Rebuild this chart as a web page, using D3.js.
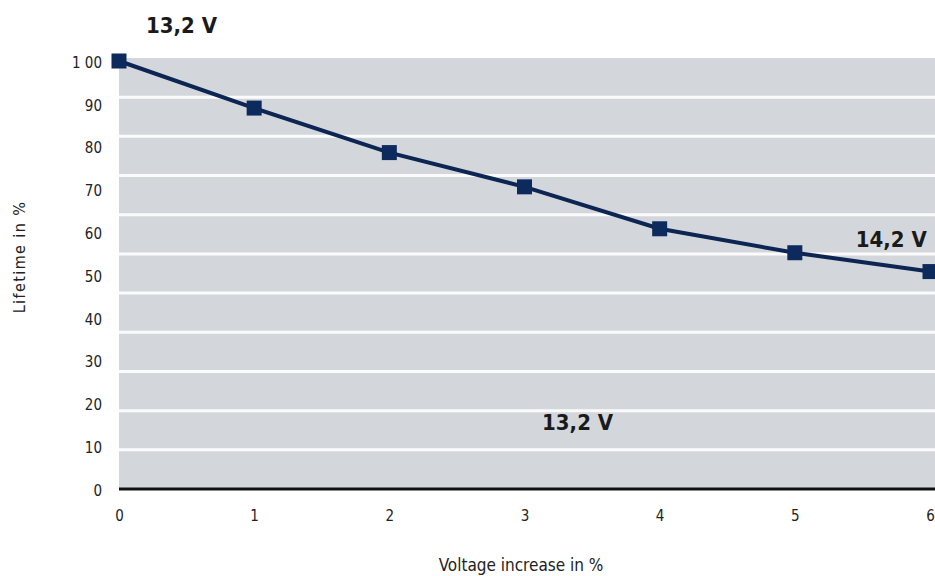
<!DOCTYPE html>
<html>
<head>
<meta charset="utf-8">
<script src="https://cdn.jsdelivr.net/npm/d3@7"></script>
<style>
  html, body { margin: 0; padding: 0; background: #ffffff; }
  svg { display: block; }
</style>
</head>
<body>
<svg id="chart" width="935" height="576"></svg>
<script>
// Lifetime of a lamp versus supply voltage increase
const voltageIncrease = [0, 1, 2, 3, 4, 5, 6];
const lifetime = [100, 89, 78.6, 70.6, 60.8, 55.2, 50.8];
const yTickValues = [0, 10, 20, 30, 40, 50, 60, 70, 80, 90, 100];
const yTickLabels = ["0", "10", "20", "30", "40", "50", "60", "70", "80", "90", "1 00"];
const xTickValues = [0, 1, 2, 3, 4, 5, 6];
const xTickLabels = ["0", "1", "2", "3", "4", "5", "6"];
const stripeCount = 11;
const annotations = [
  { text: "13,2 V", x: 0.2, y: 106.5 },
  { text: "14,2 V", x: 5.45, y: 56.5 },
  { text: "13,2 V", x: 3.13, y: 13.7 }
];

const svg = d3.select("#chart");
const W = 935, H = 576;

const x = d3.scaleLinear().domain([0, 6]).range([119, 930]);
const y = d3.scaleLinear().domain([0, 100]).range([489, 61]);
const stripe = d3.scaleLinear().domain([0, stripeCount]).range([489, 58]);

const plotLeft = x(0), plotTop = stripe(stripeCount), plotBottom = y(0);

// grey plot panel
svg.append("rect")
  .attr("x", plotLeft).attr("y", plotTop)
  .attr("width", W - plotLeft).attr("height", plotBottom - plotTop)
  .attr("fill", "#d3d7dc");

// white stripes across the panel
svg.append("g").selectAll("line")
  .data(d3.range(1, stripeCount))
  .join("line")
  .attr("x1", plotLeft).attr("x2", W)
  .attr("y1", d => stripe(d)).attr("y2", d => stripe(d))
  .attr("stroke", "#fbfbfc").attr("stroke-width", 3);

// baseline
svg.append("line")
  .attr("x1", plotLeft).attr("x2", W)
  .attr("y1", plotBottom).attr("y2", plotBottom)
  .attr("stroke", "#111111").attr("stroke-width", 3);

const tickFont = "'DejaVu Sans Condensed', 'DejaVu Sans', sans-serif";

// y axis labels
const yAxis = d3.axisLeft(y)
  .tickValues(yTickValues)
  .tickFormat((d, i) => yTickLabels[i])
  .tickSize(0).tickPadding(0);
const gy = svg.append("g").attr("transform", `translate(102,0)`).call(yAxis);
gy.select(".domain").remove();
gy.selectAll("text")
  .attr("font-family", tickFont).attr("font-size", 15)
  .attr("fill", "#222").attr("dy", "0.42em");

// x axis labels
const xAxis = d3.axisBottom(x)
  .tickValues(xTickValues)
  .tickFormat((d, i) => xTickLabels[i])
  .tickSize(0).tickPadding(0);
const gx = svg.append("g").attr("transform", `translate(0,516)`).call(xAxis);
gx.select(".domain").remove();
gx.selectAll("text")
  .attr("font-family", tickFont).attr("font-size", 15)
  .attr("fill", "#222").attr("dy", "0.35em");

// axis titles
svg.append("text")
  .attr("x", 521).attr("y", 571)
  .attr("text-anchor", "middle")
  .attr("font-family", tickFont).attr("font-size", 17)
  .attr("fill", "#222")
  .text("Voltage increase in %");

svg.append("text")
  .attr("transform", "translate(25,257) rotate(-90)")
  .attr("text-anchor", "middle")
  .attr("font-family", tickFont).attr("font-size", 16)
  .attr("letter-spacing", 1.4)
  .attr("fill", "#222")
  .text("Lifetime in %");

// lifetime curve
const pts = voltageIncrease.map((v, i) => [v, lifetime[i]]);
svg.append("path")
  .datum(pts)
  .attr("fill", "none")
  .attr("stroke", "#0c2552")
  .attr("stroke-width", 4)
  .attr("d", d3.line().x(d => x(d[0])).y(d => y(d[1])));

const size = 15;
svg.append("g").selectAll("rect")
  .data(pts)
  .join("rect")
  .attr("x", d => x(d[0]) - size / 2)
  .attr("y", d => y(d[1]) - size / 2)
  .attr("width", size).attr("height", size)
  .attr("fill", "#0c2a5c");

// voltage annotations
svg.append("g").selectAll("text")
  .data(annotations)
  .join("text")
  .attr("x", d => x(d.x))
  .attr("y", d => y(d.y))
  .attr("font-family", tickFont)
  .attr("font-weight", "bold")
  .attr("font-size", 22)
  .attr("fill", "#1a1a1a")
  .text(d => d.text);
</script>
</body>
</html>
